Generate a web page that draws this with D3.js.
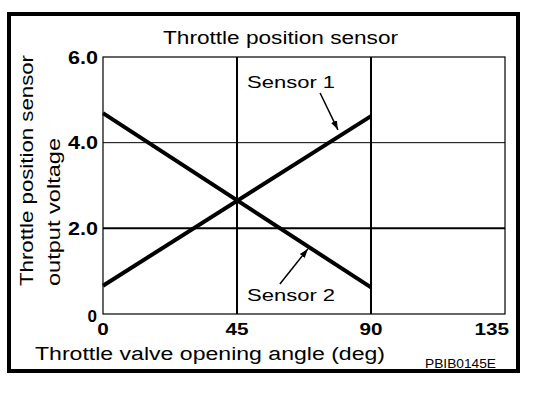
<!DOCTYPE html>
<html>
<head>
<meta charset="utf-8">
<script src="https://cdn.jsdelivr.net/npm/d3@7"></script>
<style>
  html, body { margin: 0; padding: 0; background: #fff; }
  svg text { font-family: "Liberation Sans", Arial, Helvetica, sans-serif; fill: #000; }
</style>
</head>
<body>
<svg id="chart" width="560" height="394"></svg>
<script>
// dati
const angles = [0, 90];
const sensor1 = [0.66, 4.62];
const sensor2 = [4.69, 0.62];
const xTicks = [0, 45, 90, 135];
const yTicks = [2, 4, 6];
const yTickLabels = ["2.0", "4.0", "6.0"];
const gridX = [45, 90];
const gridY = [2, 4];
// etichette con freccia: testo, posizione testo, coda e punta della freccia (in unita' dati)
const callouts = [
  { label: "Sensor 1", tx: 48.4, ty: 5.28, from: [72.9, 5.16], to: [78.9, 4.30] },
  { label: "Sensor 2", tx: 48.4, ty: 0.30, from: [59.4, 0.70], to: [68.8, 1.52] }
];

const svg = d3.select("#chart");
const x = d3.scaleLinear().domain([0, 135]).range([103, 505]);
const y = d3.scaleLinear().domain([0, 6]).range([314, 57]);

//Cornice esterna
svg.append("rect")
  .attr("x", 9).attr("y", 14)
  .attr("width", 509).attr("height", 357)
  .attr("fill", "none").attr("stroke", "#000").attr("stroke-width", 4);

//Titolo
svg.append("text")
  .attr("x", 163).attr("y", 44)
  .attr("font-size", 18)
  .attr("textLength", 235).attr("lengthAdjust", "spacingAndGlyphs")
  .text("Throttle position sensor");

//Griglia
const g = svg.append("g");
g.selectAll("line.gx").data(gridX).join("line")
  .attr("x1", d => x(d)).attr("x2", d => x(d))
  .attr("y1", y(6)).attr("y2", y(0))
  .attr("stroke", "#000").attr("stroke-width", 2);
g.selectAll("line.gy").data(gridY).join("line")
  .attr("x1", x(0)).attr("x2", x(135))
  .attr("y1", d => y(d)).attr("y2", d => y(d))
  .attr("stroke", "#000").attr("stroke-width", d => d === 2 ? 2 : 1);

//Riquadro del grafico
g.append("rect")
  .attr("x", x(0)).attr("y", y(6))
  .attr("width", x(135) - x(0)).attr("height", y(0) - y(6))
  .attr("fill", "none").attr("stroke", "#000").attr("stroke-width", 1.2);

//Asse y: etichette
svg.append("g").selectAll("text").data(yTicks).join("text")
  .attr("x", x(0) - 5).attr("y", d => y(d) + 6.5)
  .attr("text-anchor", "end")
  .attr("font-size", 18).attr("font-weight", "bold")
  .attr("textLength", 30).attr("lengthAdjust", "spacingAndGlyphs")
  .text((d, i) => yTickLabels[i]);
svg.append("text")
  .attr("x", x(0) - 6).attr("y", y(0) + 8)
  .attr("text-anchor", "end")
  .attr("font-size", 17).attr("font-weight", "bold")
  .text("0");

//Asse x: etichette (l'ultima allineata a destra dentro la cornice)
const last = xTicks[xTicks.length - 1];
svg.append("g").selectAll("text").data(xTicks).join("text")
  .attr("x", d => d === last ? x(d) + 4 : x(d)).attr("y", y(0) + 21)
  .attr("text-anchor", d => d === last ? "end" : "middle")
  .attr("font-size", 17).attr("font-weight", "bold")
  .attr("textLength", d => String(d).length * 11.5).attr("lengthAdjust", "spacingAndGlyphs")
  .text(d => d);

//Titoli degli assi
svg.append("text")
  .attr("x", 35).attr("y", 360)
  .attr("font-size", 18)
  .attr("textLength", 350).attr("lengthAdjust", "spacingAndGlyphs")
  .text("Throttle valve opening angle (deg)");

const yTitle = svg.append("g").attr("transform", "translate(0,286) rotate(-90)");
yTitle.append("text")
  .attr("x", 0).attr("y", 33)
  .attr("font-size", 18)
  .attr("textLength", 231).attr("lengthAdjust", "spacingAndGlyphs")
  .text("Throttle position sensor");
yTitle.append("text")
  .attr("x", 0).attr("y", 60)
  .attr("font-size", 18)
  .attr("textLength", 148).attr("lengthAdjust", "spacingAndGlyphs")
  .text("output voltage");

svg.append("text")
  .attr("x", 425).attr("y", 368)
  .attr("font-size", 12)
  .attr("textLength", 71).attr("lengthAdjust", "spacingAndGlyphs")
  .text("PBIB0145E");

//Linee dei sensori
const line = d3.line().x(d => x(d[0])).y(d => y(d[1]));
[sensor1, sensor2].forEach(s => {
  svg.append("path")
    .datum(angles.map((a, i) => [a, s[i]]))
    .attr("d", line)
    .attr("fill", "none").attr("stroke", "#000").attr("stroke-width", 4);
});

//Frecce ed etichette
svg.append("defs").append("marker")
  .attr("id", "arrow")
  .attr("viewBox", "0 0 10 10")
  .attr("refX", 10).attr("refY", 5)
  .attr("markerWidth", 9).attr("markerHeight", 9)
  .attr("markerUnits", "userSpaceOnUse")
  .attr("orient", "auto")
  .append("path").attr("d", "M0,1.5 L10,5 L0,8.5 Z").attr("fill", "#000");

const c = svg.append("g").selectAll("g").data(callouts).join("g");
c.append("text")
  .attr("x", d => x(d.tx)).attr("y", d => y(d.ty))
  .attr("font-size", 17)
  .attr("textLength", 88).attr("lengthAdjust", "spacingAndGlyphs")
  .text(d => d.label);
c.append("line")
  .attr("x1", d => x(d.from[0])).attr("y1", d => y(d.from[1]))
  .attr("x2", d => x(d.to[0])).attr("y2", d => y(d.to[1]))
  .attr("stroke", "#000").attr("stroke-width", 1.5)
  .attr("marker-end", "url(#arrow)");
</script>
</body>
</html>
